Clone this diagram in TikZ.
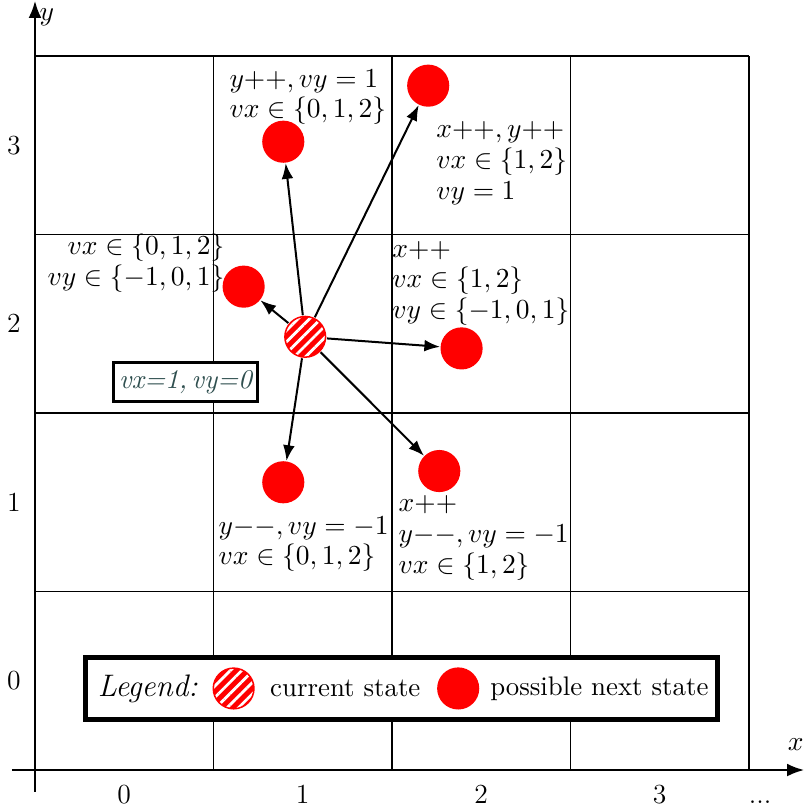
\documentclass[tikz,border=0pt]{standalone}
\usepackage{tikz}
\usetikzlibrary{arrows.meta,positioning,patterns.meta}
\definecolor{StateRed}{HTML}{FF0000}
\definecolor{Slate}{HTML}{2F4F4F}
\tikzset{
  axis/.style={-{Latex[length=2.4mm]}, line width=1pt},
  gridline/.style={draw=black, line width=0.5pt},
  nextstate/.style={
    circle, fill=StateRed, minimum size=0.59cm, inner sep=0pt
  },
  current/.style={
    circle, draw=StateRed, semithick, preaction={fill=StateRed},
    pattern={Lines[angle=45,distance=3.2pt,line width=1.1pt]}, pattern color=white,
    minimum size=0.57cm, inner sep=0pt
  },
  move/.style={-{Latex[length=2.2mm]}, thick, draw=black},
  note/.style={inner sep=0pt, align=left, font=\fontsize{11.2}{12.2}\selectfont},
  ticklabel/.style={font=\fontsize{11}{13}\selectfont},
  velbox/.style={
    draw, line width=1.1pt, fill=white, text=Slate, font=\fontsize{10.8}{12}\itshape,
    minimum width=2.02cm, minimum height=0.55cm, inner sep=1pt
  },
  legendbox/.style={
    draw, line width=2pt, fill=white,
    minimum width=8.85cm, minimum height=0.87cm
  },
  legendtext/.style={inner sep=0pt, font=\fontsize{10.7}{12}\selectfont}
}

\begin{document}
\begin{tikzpicture}[x=2.5cm,y=2.5cm]
    \useasboundingbox (-0.196,-0.224) rectangle (4.303,4.314);
    \foreach \i in {1,...,4} {
      \draw[gridline] (\i,0) -- (\i,4);
      \draw[gridline] (0,\i) -- (4,\i);
    }
    \coordinate (xfrom) at (-0.13,0);
    \coordinate (xto) at (4.31,0);
    \coordinate (yfrom) at (0,-0.123);
    \coordinate (yto) at (0,4.31);
    \draw[axis] (xfrom) -- (xto);
    \draw[axis] (yfrom) -- (yto);
    \node[ticklabel] (xlabel) at (4.262,0.14) {$x$};
    \node[ticklabel] (ylabel) at (0.067,4.22) {$y$};
    \foreach \i in {0,...,3} {
      \node[ticklabel,anchor=base] (xt\i) at (\i+0.5,-0.185) {\i};
      \node[ticklabel] (yt\i) at (-0.118,\i+0.5) {\i};
    }
    \node[ticklabel,anchor=base] (xdots) at (4.062,-0.185) {...};

    \node[current] (cur) at (1.514,2.427) {};
    \node[nextstate] (up) at (1.391,3.520) {};
    \node[nextstate] (upright) at (2.203,3.834) {};
    \node[nextstate] (left) at (1.169,2.708) {};
    \node[nextstate] (right) at (2.390,2.362) {};
    \node[nextstate] (down) at (1.391,1.612) {};
    \node[nextstate] (downright) at (2.265,1.675) {};
    \foreach \t in {up,upright,left,right,down,downright}
      \draw[move] (cur) -- (\t);

    \node[note,anchor=west] (lblup) at (1.087,3.770) {$y{+}{+}, vy = 1$\\$vx \in \{0,1,2\}$};
    \node[note,anchor=west] (lblupright) at (2.246,3.400) {$x{+}{+}, y{+}{+}$\\$vx \in \{1,2\}$\\$vy = 1$};
    \node[note,anchor=east,align=right] (lblleft) at (1.064,2.840) {$vx \in \{0,1,2\}$\\$vy \in \{-1,0,1\}$};
    \node[note,anchor=west] (lblright) at (2.000,2.728) {$x{+}{+}$\\$vx \in \{1,2\}$\\$vy \in \{-1,0,1\}$};
    \node[note,anchor=west] (lbldown) at (1.026,1.266) {$y{-}{-}, vy = -1$\\$vx \in \{0,1,2\}$};
    \node[note,anchor=west] (lbldownright) at (2.035,1.300) {$x{+}{+}$\\$y{-}{-}, vy = -1$\\$vx \in \{1,2\}$};

    \node[velbox] (vel) at (0.844,2.173) {vx=1,\,vy=0};

    \node[legendbox] (legend) at (2.053,0.457) {};
    \node[legendtext,font=\fontsize{12.4}{14}\itshape,right=0.2cm of legend.west] (lgtitle) {Legend:};
    \node[current,right=0.2cm of lgtitle] (lgcur) {};
    \node[legendtext,right=0.21cm of lgcur] (lgcurtext) {current state};
    \node[nextstate,right=0.22cm of lgcurtext] (lgnext) {};
    \node[legendtext,right=0.14cm of lgnext] (lgnexttext) {possible next state};
  \end{tikzpicture}
\end{document}
